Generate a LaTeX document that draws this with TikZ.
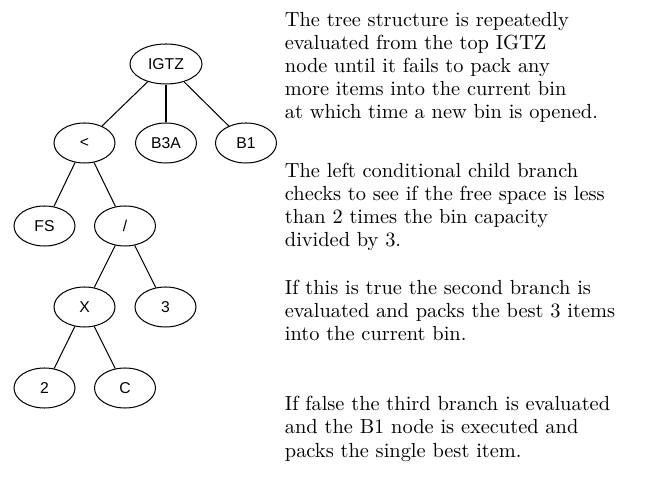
\documentclass[tikz,border=0pt]{standalone}
\usepackage{fontspec}
\newfontfamily\nodefont{Liberation Sans}
\usetikzlibrary{shapes.geometric}
\begin{document}
\begin{tikzpicture}[x=0.49pt,y=-0.49pt,
  tnode/.style={draw,ellipse,line width=0.5pt,inner sep=0pt,minimum width=29.9pt,minimum height=19.6pt,font=\nodefont\fontsize{7.7}{9}\selectfont},
  txt/.style={anchor=base west,inner sep=0pt,font=\fontsize{10}{11.3}\selectfont},
  edge/.style={line width=0.5pt}]
\useasboundingbox (0,0) rectangle (645,485);
\node[tnode,minimum width=35.3pt] (igtz) at (166,64) {IGTZ};
\node[tnode] (lt) at (84.5,143) {<};
\node[tnode] (b3a) at (166,143) {B3A};
\node[tnode] (b1) at (246,143) {B1};
\node[tnode] (fs) at (44.5,226) {FS};
\node[tnode] (dv) at (125,226) {/};
\node[tnode] (x) at (84.5,307) {X};
\node[tnode] (three) at (165.5,307) {3};
\node[tnode] (two) at (44.5,388) {2};
\node[tnode] (c) at (125,388) {C};
\draw[edge] (igtz) -- (lt);
\draw[edge] (igtz) -- (b3a);
\draw[edge] (igtz) -- (b1);
\draw[edge] (lt) -- (fs);
\draw[edge] (lt) -- (dv);
\draw[edge] (dv) -- (x);
\draw[edge] (dv) -- (three);
\draw[edge] (x) -- (two);
\draw[edge] (x) -- (c);
\node[txt] (t1) at (284.5,27) {The tree structure is repeatedly};
\node[txt] (t2) at (284.5,50) {evaluated from the top IGTZ};
\node[txt] (t3) at (284.5,73) {node until it fails to pack any};
\node[txt] (t4) at (284.5,96) {more items into the current bin};
\node[txt] (t5) at (284.5,119) {at which time a new bin is opened.};
\node[txt] (t6) at (284.5,178) {The left conditional child branch};
\node[txt] (t7) at (284.5,201) {checks to see if the free space is less};
\node[txt] (t8) at (284.5,224) {than 2 times the bin capacity};
\node[txt] (t9) at (284.5,247) {divided by 3.};
\node[txt] (t10) at (284.5,295) {If this is true the second branch is};
\node[txt] (t11) at (284.5,318) {evaluated and packs the best 3 items};
\node[txt] (t12) at (284.5,341) {into the current bin.};
\node[txt] (t13) at (284.5,411) {If false the third branch is evaluated};
\node[txt] (t14) at (284.5,434) {and the B1 node is executed and};
\node[txt] (t15) at (284.5,457) {packs the single best item.};
\end{tikzpicture}
\end{document}
